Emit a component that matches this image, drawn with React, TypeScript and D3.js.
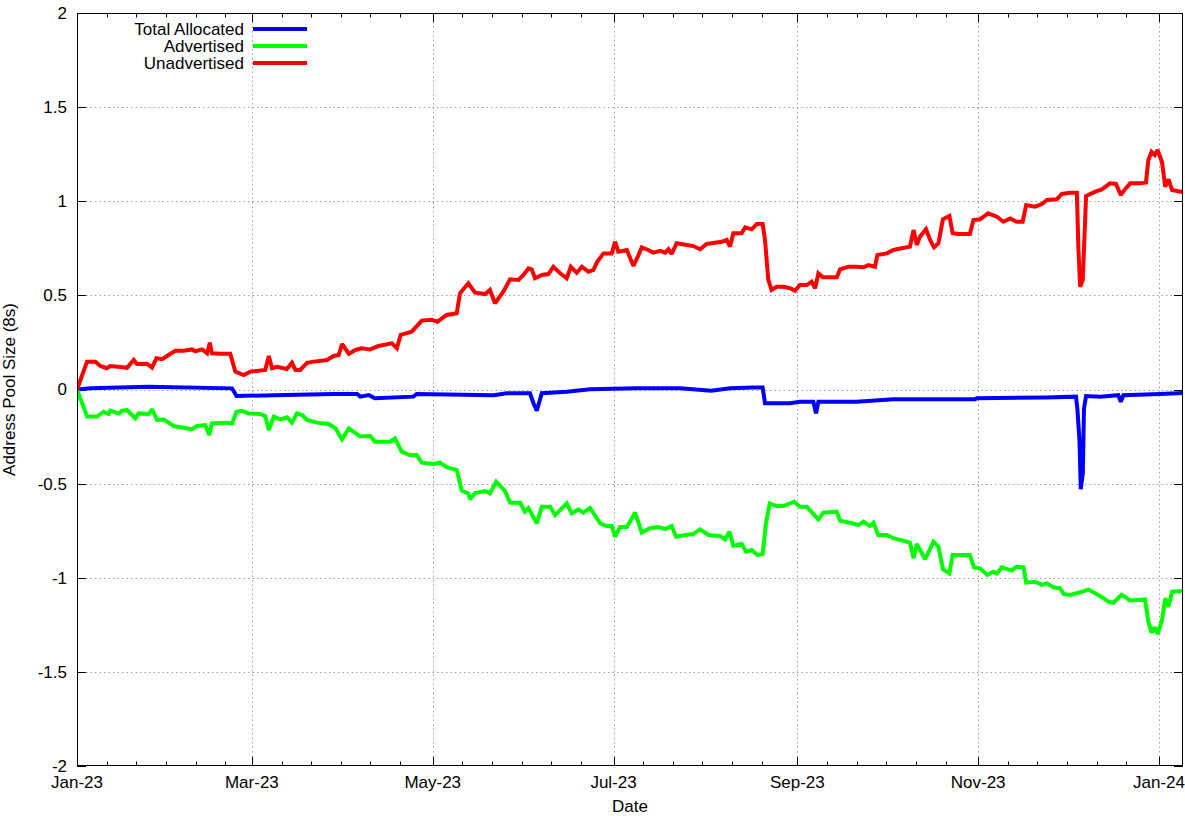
import React from "react";
import * as d3 from "d3";

// days since 2023-01-01, value
const totalAllocated: [number, number][] = [
  [0, 0], [4.4, 0.006], [24, 0.014], [52.3, 0.006], [53.8, -0.035], [66.4, -0.03], [86.6, -0.024],
  [94.5, -0.024], [95.6, -0.038], [98.5, -0.03], [100.5, -0.047], [113.5, -0.038], [114.6, -0.024],
  [140.5, -0.03], [145, -0.02], [152.8, -0.02], [154, -0.073], [155.1, -0.113], [156.8, -0.02],
  [165.2, -0.012], [173.1, 0.001], [188.8, 0.006], [203.4, 0.006], [214, -0.006], [220.3, 0.006],
  [228, 0.01], [231.3, 0.01], [232.1, -0.073], [240.5, -0.073], [243.9, -0.065], [248.4, -0.065],
  [249.3, -0.127], [250.1, -0.065], [263, -0.065], [275.4, -0.052], [303, -0.052], [303.5, -0.047],
  [326.6, -0.042], [337, -0.038], [337.5, -0.109], [338.2, -0.277], [338.6, -0.53], [339.3, -0.445],
  [339.7, -0.1], [340.4, -0.035], [345.1, -0.038], [351.3, -0.03], [352.1, -0.065], [353, -0.03],
  [365.4, -0.024], [374, -0.018],
];

const advertised: [number, number][] = [
  [0, 0], [3.4, -0.144], [6.7, -0.144], [9, -0.118], [10.7, -0.13], [11.2, -0.113], [14.1, -0.127],
  [15.2, -0.113], [16.9, -0.11], [19.7, -0.153], [20.8, -0.127], [24.2, -0.13], [25.3, -0.105],
  [27, -0.162], [29.3, -0.159], [32.6, -0.194], [34.9, -0.201], [38.8, -0.211], [40.5, -0.194],
  [43.3, -0.189], [44.6, -0.242], [45.5, -0.18], [49.5, -0.176], [52.3, -0.18], [53.8, -0.118],
  [55.7, -0.113], [57.9, -0.127], [61.8, -0.13], [63.5, -0.141], [64.7, -0.215], [66.4, -0.144],
  [68.6, -0.159], [70.9, -0.148], [72.5, -0.176], [74.2, -0.127], [75.9, -0.136], [77.6, -0.162],
  [81, -0.176], [84.9, -0.183], [87.2, -0.206], [89.4, -0.265], [91.7, -0.206], [95.6, -0.25],
  [98.9, -0.247], [100.5, -0.277], [105.6, -0.277], [107.3, -0.26], [109.5, -0.33], [112.3, -0.348],
  [114.6, -0.348], [116.3, -0.389], [120.2, -0.396], [122.5, -0.389], [124.7, -0.413], [128.1, -0.428],
  [129.8, -0.537], [132, -0.552], [132.6, -0.583], [134.3, -0.55], [137.7, -0.54], [139.3, -0.552],
  [141.4, -0.49], [144.4, -0.54], [146.1, -0.601], [149.5, -0.601], [151.1, -0.649], [152.3, -0.63],
  [155.1, -0.711], [156.8, -0.623], [159.6, -0.623], [161.3, -0.667], [165.2, -0.605], [166.9, -0.658],
  [169.1, -0.637], [170.8, -0.654], [173.1, -0.63], [176.5, -0.711], [178.7, -0.725], [180.4, -0.725],
  [181.5, -0.782], [183.2, -0.73], [185.5, -0.73], [188.3, -0.654], [190.5, -0.76], [193.3, -0.737],
  [196.1, -0.73], [198.4, -0.741], [200.6, -0.725], [202.1, -0.782], [205.1, -0.773], [207.9, -0.768],
  [210.2, -0.743], [213, -0.773], [216.9, -0.778], [218.6, -0.796], [220.1, -0.755], [221.4, -0.831],
  [224.2, -0.82], [225.7, -0.861], [227.6, -0.853], [229.5, -0.879], [231.3, -0.874], [232.4, -0.711],
  [233.7, -0.605], [236, -0.619], [238.3, -0.619], [241.9, -0.596], [243.9, -0.623], [246.2, -0.623],
  [250.1, -0.69], [251.8, -0.654], [256.3, -0.649], [257.4, -0.697], [260.8, -0.708], [263.6, -0.72],
  [265.3, -0.702], [267.5, -0.725], [268.7, -0.708], [270.3, -0.773], [273.2, -0.773], [275.4, -0.79],
  [279.9, -0.808], [281, -0.814], [282.2, -0.897], [283.3, -0.82], [286.1, -0.902], [288.9, -0.808],
  [290.6, -0.835], [292.1, -0.955], [294.3, -0.977], [295.4, -0.879], [301.2, -0.879], [302.6, -0.945],
  [304.6, -0.95], [307.1, -0.985], [309.1, -0.968], [310.3, -0.977], [312, -0.945], [315.3, -0.962],
  [317, -0.941], [319.3, -0.945], [320.2, -1.026], [323.2, -1.021], [325.5, -1.038], [327.2, -1.03],
  [329.4, -1.051], [331.7, -1.056], [332.8, -1.086], [335, -1.091], [337.8, -1.08], [341.2, -1.063],
  [345.1, -1.097], [347.9, -1.127], [349.6, -1.133], [352.4, -1.091], [355.3, -1.121], [360.3, -1.115],
  [361.4, -1.233], [362.5, -1.292], [363.6, -1.263], [364.5, -1.299], [366, -1.226], [367.1, -1.109],
  [368.2, -1.154], [369.4, -1.074], [374, -1.069],
];

const unadvertised: [number, number][] = [
  [0, 0], [3.4, 0.148], [6.2, 0.148], [7.9, 0.125], [10, 0.113], [11.2, 0.125], [14.6, 0.12],
  [16.9, 0.115], [19.1, 0.157], [20.2, 0.135], [23.6, 0.137], [25.3, 0.116], [26.8, 0.166],
  [28.7, 0.161], [30.9, 0.183], [33.2, 0.206], [36, 0.206], [38.8, 0.213], [39.9, 0.203], [42.2, 0.213],
  [43.9, 0.192], [44.8, 0.249], [45.5, 0.192], [48.4, 0.19], [51.7, 0.19], [53.4, 0.095], [56.2, 0.077],
  [58.5, 0.095], [61.3, 0.1], [63.5, 0.104], [64.7, 0.178], [65.8, 0.113], [67.5, 0.12], [70.8, 0.109],
  [72.5, 0.142], [73.7, 0.104], [75.3, 0.104], [77.6, 0.142], [79.9, 0.148], [84.3, 0.157], [86.6, 0.178],
  [88.3, 0.183], [89.4, 0.242], [91.7, 0.189], [93.9, 0.21], [96, 0.219], [98.9, 0.213], [101.7, 0.231],
  [106.2, 0.245], [107.9, 0.219], [109.2, 0.29], [112.9, 0.307], [116.3, 0.366], [119.7, 0.37],
  [121.6, 0.36], [124.7, 0.396], [128.1, 0.405], [129.2, 0.511], [132, 0.564], [134.3, 0.514],
  [137.7, 0.507], [139.3, 0.529], [141, 0.458], [143.8, 0.52], [146.1, 0.585], [148.9, 0.582],
  [150.6, 0.608], [152.3, 0.644], [153.4, 0.638], [154.5, 0.591], [156.8, 0.608], [159, 0.613],
  [160.7, 0.652], [163, 0.617], [165.2, 0.591], [166.6, 0.652], [168.6, 0.62], [170.3, 0.652],
  [172.5, 0.626], [174.2, 0.635], [175.5, 0.679], [177.6, 0.723], [180.4, 0.723], [181.5, 0.785],
  [182.6, 0.732], [185.5, 0.741], [187.7, 0.656], [189.4, 0.714], [190.5, 0.755], [192.7, 0.741],
  [194.4, 0.727], [196.7, 0.737], [198.4, 0.727], [199.5, 0.745], [200.6, 0.72], [202.3, 0.777],
  [205.7, 0.768], [207.9, 0.762], [210.2, 0.745], [212.4, 0.773], [217.5, 0.785], [219.2, 0.794],
  [220.3, 0.759], [221.4, 0.83], [224.2, 0.83], [225.4, 0.861], [227.6, 0.851], [229.3, 0.879],
  [231.3, 0.879], [232.1, 0.794], [233.2, 0.582], [234.3, 0.529], [236, 0.546], [238.3, 0.546],
  [240.5, 0.538], [242.2, 0.525], [243.9, 0.555], [246.2, 0.555], [247.8, 0.573], [249, 0.538],
  [250.1, 0.617], [251.6, 0.596], [256.3, 0.596], [257.4, 0.638], [260.2, 0.652], [263, 0.652],
  [265.3, 0.649], [267, 0.661], [269.2, 0.652], [270, 0.714], [273.2, 0.723], [275.4, 0.741],
  [278.2, 0.75], [281, 0.759], [282.2, 0.847], [283.3, 0.768], [284.4, 0.812], [286.4, 0.851],
  [287.8, 0.794], [289.1, 0.755], [290.6, 0.777], [292.1, 0.904], [294.3, 0.922], [295.4, 0.83],
  [297.3, 0.826], [301.2, 0.826], [302.4, 0.9], [304.6, 0.904], [307.4, 0.936], [310.3, 0.918],
  [312.5, 0.891], [314.8, 0.909], [317, 0.891], [319, 0.891], [320.2, 0.98], [323.2, 0.971],
  [325.5, 0.985], [327.2, 1.007], [330.5, 1.01], [332.2, 1.039], [335, 1.045], [337.3, 1.045],
  [337.8, 0.759], [338.4, 0.546], [339.3, 0.582], [339.7, 0.75], [340.4, 1.028], [343.5, 1.051],
  [345.7, 1.063], [348.5, 1.095], [350.5, 1.092], [352.1, 1.033], [353.5, 1.063], [355.3, 1.095],
  [358.6, 1.095], [360.6, 1.1], [361.4, 1.219], [362.5, 1.263], [363.6, 1.246], [364.5, 1.272],
  [366, 1.21], [367.1, 1.077], [368.2, 1.116], [369.4, 1.06], [372.2, 1.051], [374, 1.051],
];

const yTicks = [2, 1.5, 1, 0.5, 0, -0.5, -1, -1.5, -2];
const yTickLabels = ["2", "1.5", "1", "0.5", "0", "-0.5", "-1", "-1.5", "-2"];
const seriesNames = ["Total Allocated", "Advertised", "Unadvertised"];
const seriesColors = ["#0000ff", "#00ff00", "#ff0000"];

const START = Date.UTC(2023, 0, 1);
const DAY = 86400000;
const END_DAY = 373.1;
const toDate = (d: number) => new Date(START + d * DAY);

export default function App() {
  const W = 1185, H = 816;
  const left = 77, right = 1183, top = 13, bottom = 766;
  const x = d3.scaleUtc().domain([toDate(0), toDate(END_DAY)]).range([left, right]);
  const y = d3.scaleLinear().domain([-2, 2]).range([bottom, top]);
  const majors = d3.utcMonth.every(2)!.range(toDate(0), toDate(END_DAY + 0.001));
  const fmt = d3.utcFormat("%b-%y");
  const minors: Date[] = [];
  majors.forEach((m, i) => {
    const next = i + 1 < majors.length ? majors[i + 1] : toDate(END_DAY);
    for (let k = 10; k < 60; k += 10) {
      const t = new Date(m.getTime() + k * DAY);
      if (t < next && t <= toDate(END_DAY)) minors.push(t);
    }
  });
  const line = d3.line<[number, number]>().x((p) => x(toDate(p[0]))).y((p) => y(p[1]));
  const series = [totalAllocated, advertised, unadvertised];
  const font = "'Liberation Sans', Arial, Helvetica, sans-serif";
  return (
    <svg width={W} height={H} style={{ position: "absolute", left: 0, top: 0, background: "#fff" }}
      fontFamily={font} fontSize={17}>
      <rect x={0} y={0} width={W} height={H} fill="#fff" />
      <defs>
        <clipPath id="plotclip">
          <rect x={left} y={top} width={right - left} height={bottom - top} />
        </clipPath>
      </defs>
      {/* grid */}
      <g stroke="#a0a0a0" strokeWidth={1} strokeDasharray="1.5,3">
        {yTicks.filter((v) => v !== 2 && v !== -2).map((v) => (
          <line key={"gy" + v} x1={left} x2={right} y1={Math.round(y(v)) + 0.5} y2={Math.round(y(v)) + 0.5} />
        ))}
        {majors.map((m) => (
          <line key={"gx" + m.getTime()} x1={Math.round(x(m)) + 0.5} x2={Math.round(x(m)) + 0.5} y1={top} y2={bottom} />
        ))}
      </g>
      {/* ticks */}
      <g stroke="#000" strokeWidth={1}>
        {yTicks.map((v) => {
          const yy = Math.round(y(v)) + 0.5;
          return (
            <g key={"ty" + v}>
              <line x1={left} x2={left + 9} y1={yy} y2={yy} />
              <line x1={right - 9} x2={right} y1={yy} y2={yy} />
            </g>
          );
        })}
        {majors.map((m) => {
          const xx = Math.round(x(m)) + 0.5;
          return (
            <g key={"tx" + m.getTime()}>
              <line x1={xx} x2={xx} y1={bottom} y2={bottom - 9} />
              <line x1={xx} x2={xx} y1={top} y2={top + 9} />
            </g>
          );
        })}
        {minors.map((m) => {
          const xx = Math.round(x(m)) + 0.5;
          return (
            <g key={"mx" + m.getTime()}>
              <line x1={xx} x2={xx} y1={bottom} y2={bottom - 4.5} />
              <line x1={xx} x2={xx} y1={top} y2={top + 4.5} />
            </g>
          );
        })}
      </g>
      {/* data */}
      <g clipPath="url(#plotclip)" fill="none" strokeWidth={4} strokeLinejoin="miter" strokeMiterlimit={2}>
        {series.map((s, i) => (
          <path key={seriesNames[i]} d={line(s) || ""} stroke={seriesColors[i]} />
        ))}
      </g>
      {/* border */}
      <rect x={left + 0.5} y={top + 0.5} width={right - left - 1} height={bottom - top - 1} fill="none" stroke="#000" strokeWidth={1} />
      {/* y labels */}
      {yTicks.map((v, i) => (
        <text key={"ly" + v} x={67} y={y(v)} dy="0.35em" textAnchor="end" fill="#000">{yTickLabels[i]}</text>
      ))}
      {/* x labels */}
      {majors.map((m) => (
        <text key={"lx" + m.getTime()} x={x(m)} y={788} textAnchor="middle" fill="#000">{fmt(m)}</text>
      ))}
      <text x={(left + right) / 2} y={812} textAnchor="middle" fill="#000">Date</text>
      <text transform={`translate(15, ${(top + bottom) / 2}) rotate(-90)`} textAnchor="middle" fill="#000">Address Pool Size (8s)</text>
      {/* legend */}
      {seriesNames.map((n, i) => {
        const ly = 29 + i * 17;
        return (
          <g key={"lg" + n}>
            <text x={244} y={ly} dy="0.35em" textAnchor="end" fill="#000">{n}</text>
            <line x1={253} x2={307} y1={ly} y2={ly} stroke={seriesColors[i]} strokeWidth={4} />
          </g>
        );
      })}
    </svg>
  );
}
